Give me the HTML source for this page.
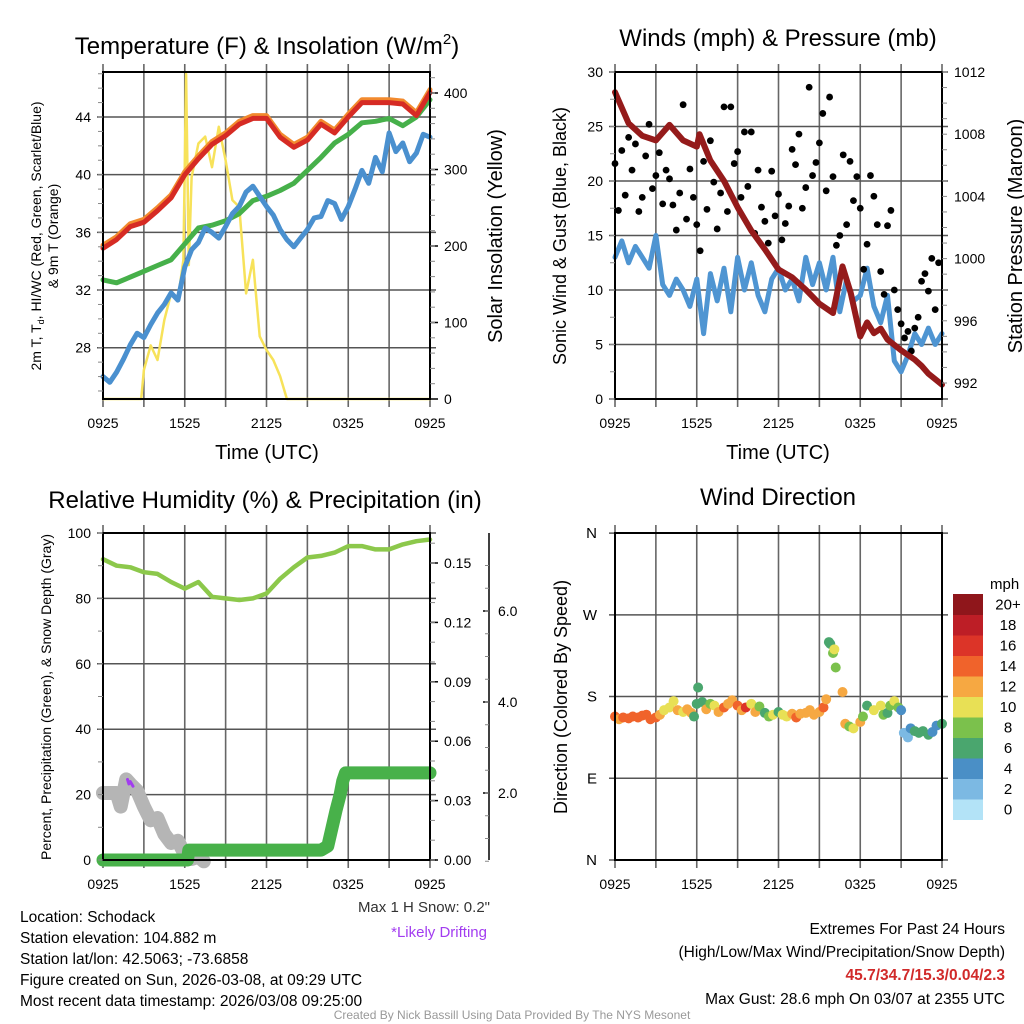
<!DOCTYPE html>
<html><head><meta charset="utf-8">
<style>
html,body{margin:0;padding:0;background:#fff;}
svg{display:block;font-family:"Liberation Sans",sans-serif;}
</style></head>
<body>
<svg id="fig" width="1024" height="1024" viewBox="0 0 1024 1024" xmlns="http://www.w3.org/2000/svg">
<rect x="0" y="0" width="1024" height="1024" fill="#fff"/>
<g id="layer-grid"></g>
<g id="layer-data"></g>
<g id="layer-frame"></g>
<g id="layer-text">
<text x="267" y="54" font-size="24" text-anchor="middle">Temperature (F) &amp; Insolation (W/m<tspan font-size="15" dy="-10">2</tspan><tspan dy="10">)</tspan></text>
<text x="778" y="46" font-size="24" text-anchor="middle">Winds (mph) &amp; Pressure (mb)</text>
<text x="265" y="508" font-size="24" text-anchor="middle">Relative Humidity (%) &amp; Precipitation (in)</text>
<text x="778" y="505" font-size="24" text-anchor="middle">Wind Direction</text>
<text x="267" y="459" font-size="20" text-anchor="middle">Time (UTC)</text>
<text x="778" y="459" font-size="20" text-anchor="middle">Time (UTC)</text>
<g font-size="14" text-anchor="middle">
<text transform="translate(41,236) rotate(-90)">2m T, T<tspan font-size="9" dy="3">d</tspan><tspan dy="-3">, HI/WC (Red, Green, Scarlet/Blue)</tspan></text>
<text transform="translate(58,236) rotate(-90)">&amp; 9m T (Orange)</text>
</g>
<text transform="translate(502,236) rotate(-90)" font-size="20" text-anchor="middle">Solar Insolation (Yellow)</text>
<text transform="translate(566,236) rotate(-90)" font-size="18" text-anchor="middle">Sonic Wind &amp; Gust (Blue, Black)</text>
<text transform="translate(1022,236) rotate(-90)" font-size="20" text-anchor="middle">Station Pressure (Maroon)</text>
<text transform="translate(51,697) rotate(-90)" font-size="14" text-anchor="middle">Percent, Precipitation (Green), &amp; Snow Depth (Gray)</text>
<text transform="translate(567,697) rotate(-90)" font-size="18" text-anchor="middle">Direction (Colored By Speed)</text>
<text x="990" y="589" font-size="15">mph</text>
<text x="490" y="912" font-size="15" fill="#333" text-anchor="end">Max 1 H Snow: 0.2"</text>
<text x="487" y="937" font-size="15" fill="#a23cf0" text-anchor="end">*Likely Drifting</text>
<g font-size="15.5">
<text x="20" y="922">Location: Schodack</text>
<text x="20" y="943">Station elevation: 104.882 m</text>
<text x="20" y="964">Station lat/lon: 42.5063; -73.6858</text>
<text x="20" y="985">Figure created on Sun, 2026-03-08, at 09:29 UTC</text>
<text x="20" y="1006">Most recent data timestamp: 2026/03/08 09:25:00</text>
</g>
<g font-size="15.5" text-anchor="end">
<text x="1005" y="934">Extremes For Past 24 Hours</text>
<text x="1005" y="957">(High/Low/Max Wind/Precipitation/Snow Depth)</text>
<text x="1005" y="980" fill="#d12a2a" font-weight="bold">45.7/34.7/15.3/0.04/2.3</text>
<text x="1005" y="1004">Max Gust: 28.6 mph On 03/07 at 2355 UTC</text>
</g>
<text x="512" y="1019" font-size="12" fill="#999" text-anchor="middle">Created By Nick Bassill Using Data Provided By The NYS Mesonet</text>
</g>
</svg>
<script>
// ---------- data ----------
const hours = [0,1,2,3,4,5,6,7,8,9,10,11,12,13,14,15,16,17,18,19,20,21,22,23,24];
const tempRed = [34.9,35.5,36.4,36.7,37.5,38.4,40.0,41.1,42.1,42.7,43.5,43.9,43.9,42.6,41.9,42.4,43.5,42.9,44.0,45.0,45.0,45.0,44.9,44.1,45.7];
const tempOrange = [35.1,35.7,36.6,36.9,37.7,38.6,40.2,41.3,42.3,42.9,43.7,44.1,44.1,42.8,42.1,42.6,43.7,43.1,44.2,45.2,45.2,45.2,45.1,44.3,45.9];
const dewGreen = [32.7,32.5,32.9,33.3,33.7,34.1,35.2,36.3,36.5,36.8,37.3,38.2,38.5,38.9,39.4,40.3,41.2,42.2,42.8,43.6,43.7,43.9,43.4,44.0,45.2];
const wcHours = [0,0.5,1,1.5,2,2.5,3,3.5,4,4.5,5,5.5,6,6.5,7,7.5,8,8.5,9,9.5,10,10.5,11,11.5,12,12.5,13,13.5,14,14.5,15,15.5,16,16.5,17,17.5,18,18.5,19,19.5,20,20.5,21,21.5,22,22.5,23,23.5,24];
const windChill = [26.0,25.6,26.3,27.2,28.2,29.0,28.7,29.6,30.4,31.0,31.8,31.3,33.6,34.8,35.3,36.3,36.0,35.6,36.4,37.3,37.8,38.8,39.2,38.5,37.8,37.2,36.2,35.5,35.0,35.6,36.2,37.0,37.1,38.2,38.0,36.9,37.8,39.0,40.3,39.4,41.2,40.2,42.9,41.6,42.2,40.9,41.5,42.8,42.6];
const solarHours = [0,1,2,2.8,3,3.5,4,4.5,5,5.5,5.9,6.1,6.3,6.5,7,7.5,8,8.5,9,9.5,10,10.5,11,11.5,12,12.5,13,13.5,14,24];
const solar = [0,0,0,0,38,70,51,103,138,130,182,425,175,290,334,343,303,356,312,260,251,138,182,82,64,51,30,0,0,0];
const windHalf = [13,14.5,12.5,14,13,12,15,10.5,9.5,11,10,8.5,11,6,11.5,9,12,8,13,10,12.5,9.5,8,11,12,10,11,9,13,10.5,12.5,10,13,8,11,9,9.5,12,8.5,7,9.5,3.5,2.5,4,6,5,6.5,5,6];
const gusts = [21.6,17.3,22.8,18.7,24,21,23.4,17.2,18.5,22.3,25.2,19.3,20.5,22.6,17.9,21,20.2,17.8,15.5,18.9,27,16.5,21.1,18.5,16,13.6,21.8,17.4,23.7,19.9,15.6,18.9,26.8,17.2,26.8,21.6,22.7,18.5,24.5,19.5,24.5,15.2,21,17.6,16.3,14.3,20.9,16.8,18.8,14.6,16.1,17.7,22.9,21.5,24.3,17.5,19.4,28.6,20.5,21.7,23.5,26.2,19.1,27.7,20.4,14.1,15,22.4,16,21.8,18.2,20.4,17.5,11.9,14.2,20.5,18.6,16,11.7,9.6,15.9,17.3,10,8.2,6.9,5.6,6.2,4.4,6.5,7.5,10.8,11.5,9.9,12.9,8.2,12.5];
const pressHours = [0,1,2,3,4,5,6,6.2,7,8,9,10,11,12,13,14,15,16,16.7,17.3,18,18.5,19,19.5,20,21,22,22.5,23,24];
const pressure = [1010.7,1008.7,1007.9,1007.6,1008.6,1007.6,1007.2,1008.0,1006.3,1005.0,1003.3,1001.8,1000.6,999.3,998.8,998.0,997.1,996.5,999.5,997.8,995.0,995.9,995.2,995.5,994.8,994.1,993.5,993.1,992.6,991.9];
const rh = [92,90,89.5,88,87.5,85,83,85,80.5,80,79.5,80,81.5,86,89.5,92.5,93,94,96,96,95,95,96.5,97.5,98];
const precipHours = [0,1,2,3,4,5,6,6.2,6.3,7,8,9,10,11,12,13,14,15,16,16.5,16.8,17.1,17.4,17.6,17.8,18,19,20,21,22,23,24];
const precip = [0,0,0,0,0,0,0,0,0.005,0.005,0.005,0.005,0.005,0.005,0.005,0.005,0.005,0.005,0.005,0.007,0.016,0.025,0.033,0.040,0.044,0.044,0.044,0.044,0.044,0.044,0.044,0.044];
const snowHours = [0,0.5,1,1.3,1.7,2,2.5,3,3.5,4,4.5,5,5.5,6,6.5,7,7.4];
const snow = [2.0,2.0,2.0,1.7,2.3,2.2,2.05,1.7,1.4,1.45,1.1,0.9,0.95,0.65,0.55,0.6,0.5];
const driftHours = [1.8,1.9,2.0,2.2];
const drift = [2.3,2.2,2.25,2.15];
const dirHours = [0,0.3,0.6,1,1.3,1.7,2,2.3,2.6,3,3.3,3.6,4,4.3,4.6,5,5.3,5.6,5.8,6,6.1,6.4,6.7,7,7.3,7.6,8,8.3,8.6,9,9.3,9.6,10,10.3,10.6,11,11.3,11.6,12,12.3,12.6,13,13.3,13.6,14,14.3,14.6,15,15.3,15.5,15.7,15.8,16,16.1,16.2,16.7,16.9,17.2,17.5,18,18.2,18.5,19,19.5,19.7,20,20.2,20.5,20.8,21,21.2,21.5,21.7,22,22.3,22.6,23,23.3,23.6,24];
const dirs = [158,155,157,156,158,157,159,160,155,157,160,165,168,175,165,163,166,162,158,172,190,174,166,172,170,163,168,172,176,170,165,168,172,163,169,162,158,160,163,160,158,161,157,161,162,165,160,163,168,177,240,238,228,232,212,185,150,147,145,152,158,170,165,170,160,162,170,175,168,165,140,135,145,142,140,142,138,141,148,150];
const speeds = [14,13,15,14,15,14,15,14,15,14,12,11,10,10,12,10,12,13,7,6,6,6,12,9,11,12,14,13,12,14,12,16,11,12,9,7,8,10,7,10,10,12,15,12,13,12,12,13,15,13,7,7,8,10,8,12,13,9,10,12,8,6,10,10,8,6,9,10,8,4,2,3,4,6,7,6,7,5,4,7];
const timeLabels = ["0925","1525","2125","0325","0925"];
const tempTicks = [28,32,36,40,44];
const solarTicks = [0,100,200,300,400];
const windTicks = [0,5,10,15,20,25,30];
const pressTicks = [992,996,1000,1004,1008,1012];
const rhTicks = [0,20,40,60,80,100];
const precipTicks = ["0.00","0.03","0.06","0.09","0.12","0.15"];
const snowTicks = ["2.0","4.0","6.0"];
const dirLabels = ["N","E","S","W","N"];
const cbLabels = ["0","2","4","6","8","10","12","14","16","18","20+"];
const cbColors = ["#b3e3f7","#7cb9e3","#4a8fc6","#4aa66e","#7bc14c","#e8e055","#f6a842","#f0632b","#dc3428","#bd1e26","#8f161b"];

// ---------- geometry ----------
const NS = "http://www.w3.org/2000/svg";
const gGrid = document.getElementById("layer-grid");
const gData = document.getElementById("layer-data");
const gFrame = document.getElementById("layer-frame");
function mk(tag, attrs, parent){const e=document.createElementNS(NS,tag);for(const k in attrs)e.setAttribute(k,attrs[k]);parent.appendChild(e);return e;}
const L = {x0:103,x1:430}, R = {x0:615,x1:942};
const TOP = {y0:72,y1:399}, BOT = {y0:533,y1:860};
function xs(p,h){return p.x0 + h*(p.x1-p.x0)/24;}
const yTemp = v => 117 + (44-v)*14.42;
const ySolar = v => 399 - v*0.765;
const yWind = v => 399 - v*10.9;
const yPress = v => 72 + (1012-v)*15.55;
const yRH = v => 860 - v*3.27;
const yPrecip = v => 860 - v*1980;
const ySnow = v => 884 - v*45.5;
const yDir = v => 860 - v*0.908;

function panelFrame(p, yb, name){
  for(let i=0;i<=8;i++){
    const x = p.x0 + i*(p.x1-p.x0)/8;
    const l = mk("line",{x1:x,y1:yb.y0-8,x2:x,y2:yb.y1+8,stroke:"#666","stroke-width":1.6},gGrid);
    
    
  }
  for(let i=0;i<5;i++){
    const x = p.x0 + i*(p.x1-p.x0)/4;
    const t = mk("text",{x:x,y:yb.y1+29,"font-size":14,"text-anchor":"middle"},gFrame);
    t.textContent = timeLabels[i];
    
    
  }
  const f = mk("rect",{x:p.x0,y:yb.y0,width:p.x1-p.x0,height:yb.y1-yb.y0,fill:"none",stroke:"#000","stroke-width":2},gFrame);
  
  
}
function hgrid(p, y, name){
  const l = mk("line",{x1:p.x0-6,y1:y,x2:p.x1+6,y2:y,stroke:"#555","stroke-width":1.5},gGrid);
  
  
}
function tickLabel(x,y,txt,anchor,name,size){
  const t = mk("text",{x:x,y:y+5,"font-size":size||14,"text-anchor":anchor},gFrame);
  t.textContent = txt;
  
  
}
function minorTick(x,y,dir){
  const l = mk("line",{x1:x,y1:y,x2:x+dir*5,y2:y,stroke:"#888","stroke-width":1},gFrame);
  
  
}
function poly(xsArr, ysArr, color, w, name){
  const pts = xsArr.map((x,i)=>x.toFixed(1)+","+ysArr[i].toFixed(1)).join(" ");
  const pl = mk("polyline",{points:pts,fill:"none",stroke:color,"stroke-width":w,"stroke-linejoin":"round","stroke-linecap":"round"},gData);
  
  
}

// ---------- panel 1: temperature ----------
panelFrame(L, TOP, "temp");
tempTicks.forEach(v=>{hgrid(L,yTemp(v),"temp");tickLabel(L.x0-12,yTemp(v),String(v),"end","temp-y-tick-label");});
for(let v=25;v<=47;v++){minorTick(L.x0,yTemp(v),-1);}
solarTicks.forEach(v=>{tickLabel(L.x1+14,ySolar(v),String(v),"start","solar-y-tick-label");
  const l=mk("line",{x1:L.x1,y1:ySolar(v),x2:L.x1+8,y2:ySolar(v),stroke:"#000","stroke-width":1.5},gFrame);
  
  });
for(let v=20;v<=420;v+=20){minorTick(L.x1,ySolar(v),1);}
poly(solarHours.map(h=>xs(L,h)), solar.map(ySolar), "#f7e25a", 2.5, "solar-insolation-line");
poly(hours.map(h=>xs(L,h)), dewGreen.map(yTemp), "#46b04a", 5, "dewpoint-line");
poly(wcHours.map(h=>xs(L,h)), windChill.map(yTemp), "#4a90cf", 5, "wind-chill-line");
poly(hours.map(h=>xs(L,h)), tempOrange.map(yTemp), "#f28a2e", 5, "temp-9m-line");
poly(hours.map(h=>xs(L,h)), tempRed.map(yTemp), "#d62b24", 5, "temp-2m-line");

// ---------- panel 2: winds ----------
panelFrame(R, TOP, "wind");
windTicks.forEach(v=>{hgrid(R,yWind(v),"wind");tickLabel(R.x0-12,yWind(v),String(v),"end","wind-y-tick-label");});
for(let v=0;v<=30;v+=2.5){minorTick(R.x0,yWind(v),-1);}
pressTicks.forEach(v=>{tickLabel(R.x1+12,yPress(v),String(v),"start","pressure-y-tick-label");});
for(let v=992;v<=1012;v+=1){minorTick(R.x1,yPress(v),1);}
const windHalfHours = windHalf.map((_,i)=>i*0.5);
poly(windHalfHours.map(h=>xs(R,h)), windHalf.map(yWind), "#4f95d2", 5, "sonic-wind-line");
gusts.forEach((g,i)=>{
  const c = mk("circle",{cx:xs(R,i*0.25),cy:yWind(g),r:3.4,fill:"#000"},gData);
  
  
});
poly(pressHours.map(h=>xs(R,h)), pressure.map(yPress), "#951b1b", 6, "pressure-line");

// ---------- panel 3: humidity ----------
panelFrame(L, BOT, "rh");
rhTicks.forEach(v=>{hgrid(L,yRH(v),"rh");tickLabel(L.x0-12,yRH(v),String(v),"end","rh-y-tick-label");});
for(let v=0;v<=100;v+=10){minorTick(L.x0,yRH(v),-1);}
precipTicks.forEach(v=>{const y=yPrecip(parseFloat(v));tickLabel(L.x1+14,y,v,"start","precip-y-tick-label");
  const l=mk("line",{x1:L.x1,y1:y,x2:L.x1+8,y2:y,stroke:"#000","stroke-width":1.5},gFrame);
  
  });
for(let v=0;v<=0.165;v+=0.01){minorTick(L.x1,yPrecip(v),1);}
const snowAxis = mk("line",{x1:489,y1:533,x2:489,y2:860,stroke:"#000","stroke-width":1.5},gFrame);


snowTicks.forEach(v=>{const y=ySnow(parseFloat(v));tickLabel(498,y,v,"start","snow-y-tick-label");
  const l=mk("line",{x1:489,y1:y,x2:483,y2:y,stroke:"#000","stroke-width":1.5},gFrame);
  
  });
for(let v=0.5;v<=7;v+=0.5){const l=mk("line",{x1:489,y1:ySnow(v),x2:485,y2:ySnow(v),stroke:"#888","stroke-width":1},gFrame);
  
  }
poly(snowHours.map(h=>xs(L,h)), snow.map(ySnow), "#b5b5b5", 14, "snow-depth-line");
poly(driftHours.map(h=>xs(L,h)), drift.map(ySnow), "#a23cf0", 3, "drifting-marker");
poly(precipHours.map(h=>xs(L,h)), precip.map(yPrecip), "#48b14a", 13, "precipitation-line");
poly(hours.map(h=>xs(L,h)), rh.map(yRH), "#8cc84b", 4.5, "relative-humidity-line");

// ---------- panel 4: wind direction ----------
panelFrame(R, BOT, "dir");
dirLabels.forEach((d,i)=>{const y=yDir(i*90);hgrid(R,y,"dir");tickLabel(R.x0-18,y,d,"end","direction-y-tick-label",15);});
dirs.forEach((d,i)=>{
  const bin = Math.min(10, Math.floor(speeds[i]/2));
  const c = mk("circle",{cx:xs(R,dirHours[i]),cy:yDir(d),r:5,fill:cbColors[bin]},gData);
  
  
});
const cbTop = 594, cbH = 20.5;
cbColors.forEach((col,i)=>{
  const y = cbTop + (10-i)*cbH;
  const r = mk("rect",{x:953,y:y,width:30,height:cbH+0.5,fill:col},gFrame);
  
  
  tickLabel(1008, y+cbH/2, cbLabels[i], "middle", "colorbar-label", 15);
});
</script>
</body></html>
